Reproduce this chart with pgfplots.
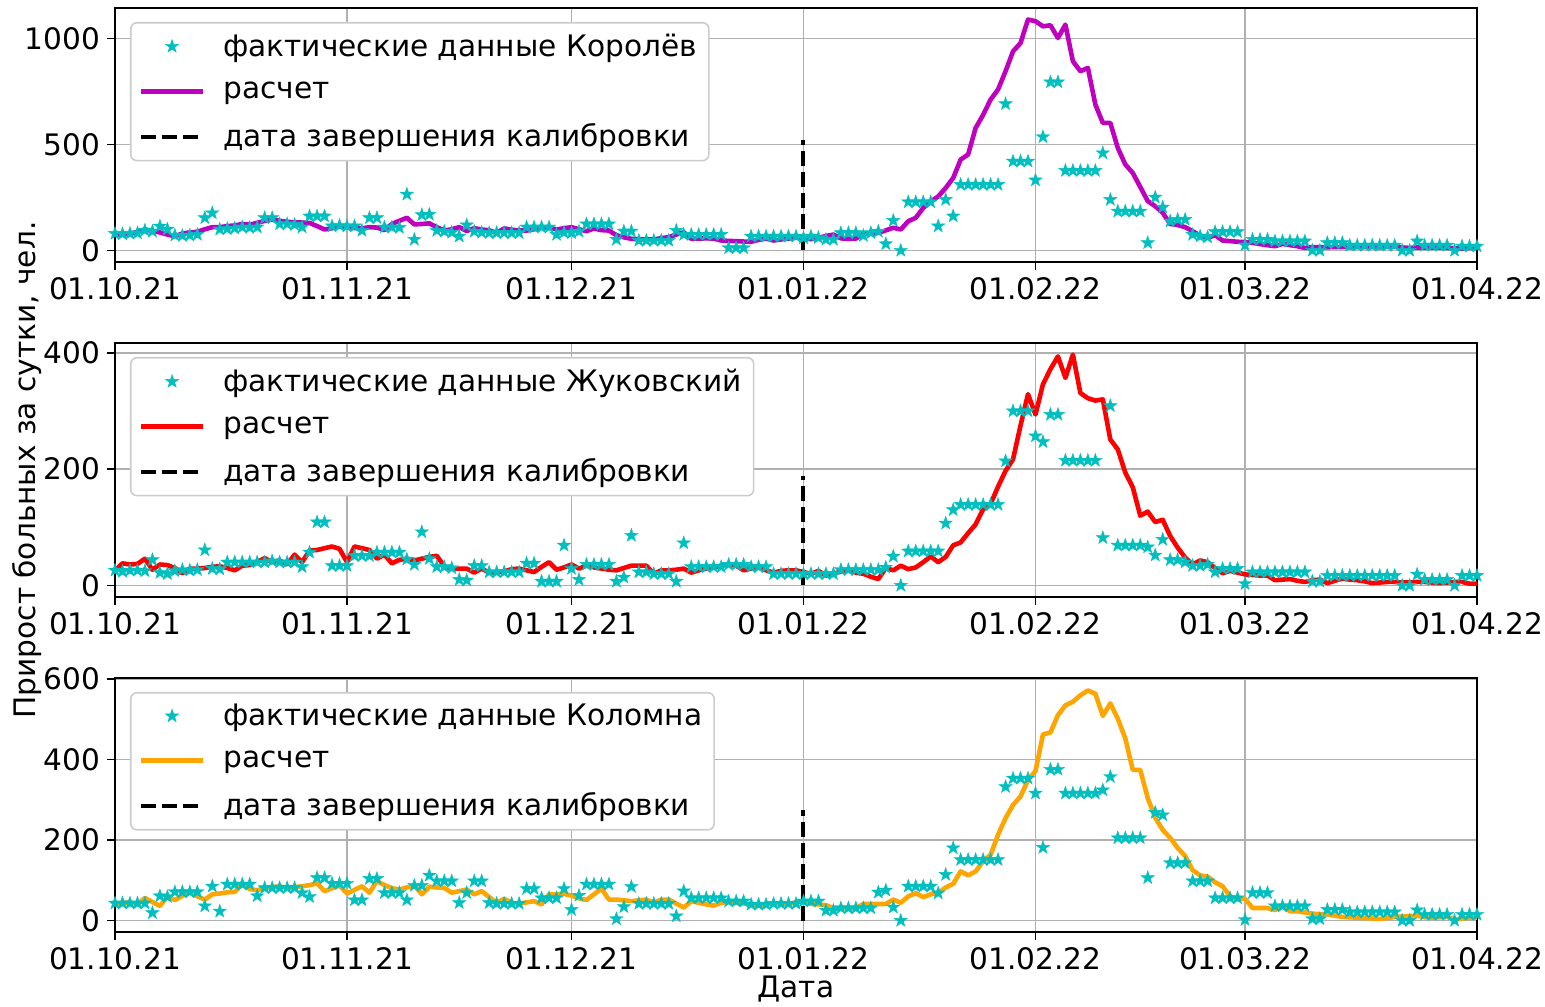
\documentclass[border=0pt]{standalone}
\usepackage{fontspec}
\setmainfont{DejaVu Sans}
\usepackage{pgfplots}
\pgfplotsset{compat=1.18}
\usepackage{pgfplotstable}

\definecolor{starc}{rgb}{0,0.75,0.75}
\definecolor{magc}{rgb}{0.75,0,0.75}
\definecolor{orc}{RGB}{255,165,0}
\definecolor{gridc}{RGB}{176,176,176}
\definecolor{legc}{RGB}{204,204,204}

\pgfdeclareplotmark{fstar}{%
 \pgfpathmoveto{\pgfpointpolar{90}{\pgfplotmarksize}}%
 \pgfpathlineto{\pgfpointpolar{126}{0.39\pgfplotmarksize}}%
 \pgfpathlineto{\pgfpointpolar{162}{\pgfplotmarksize}}%
 \pgfpathlineto{\pgfpointpolar{198}{0.39\pgfplotmarksize}}%
 \pgfpathlineto{\pgfpointpolar{234}{\pgfplotmarksize}}%
 \pgfpathlineto{\pgfpointpolar{270}{0.39\pgfplotmarksize}}%
 \pgfpathlineto{\pgfpointpolar{306}{\pgfplotmarksize}}%
 \pgfpathlineto{\pgfpointpolar{342}{0.39\pgfplotmarksize}}%
 \pgfpathlineto{\pgfpointpolar{18}{\pgfplotmarksize}}%
 \pgfpathlineto{\pgfpointpolar{54}{0.39\pgfplotmarksize}}%
 \pgfpathclose
 \pgfusepathqfillstroke
}

\pgfplotstableread{
d s m
0 80 75
1 78 76
2 80 78
3 82 88
4 95 99
5 90 92
6 114 85
7 100 75
8 72 67
9 70 80
10 72 85
11 75 88
12 154 100
13 177 110
14 100 110
15 102 115
16 105 118
17 110 125
18 108 122
19 110 130
20 154 140
21 154 146
22 125 140
23 125 135
24 122 133
25 110 132
26 162 130
27 162 115
28 162 99
29 115 105
30 118 115
31 115 110
32 115 106
33 94 104
34 154 110
35 154 108
36 110 96
37 110 125
38 108 140
39 265 154
40 52 123
41 168 125
42 170 128
43 94 110
44 90 94
45 85 100
46 67 110
47 120 92
48 90 105
49 85 99
50 83 95
51 83 83
52 83 104
53 83 98
54 83 94
55 110 94
56 110 100
57 110 108
58 110 110
59 75 99
60 85 105
61 83 110
62 90 100
63 125 91
64 125 104
65 125 96
66 125 94
67 52 72
68 91 62
69 91 55
70 47 53
71 47 52
72 47 52
73 47 58
74 47 63
75 94 75
76 75 86
77 75 55
78 75 56
79 75 57
80 75 56
81 75 47
82 12 45
83 12 44
84 12 42
85 67 41
86 67 50
87 67 56
88 67 47
89 67 52
90 67 56
91 67 62
92 59 59
93 67 53
94 60 60
95 52 68
96 52 75
97 83 57
98 83 55
99 83 56
100 70 79
101 83 80
102 90 83
103 31 95
104 141 107
105 0 99
106 229 138
107 229 154
108 229 201
109 229 230
110 115 255
111 240 295
112 162 342
113 311 429
114 311 453
115 311 578
116 311 640
117 311 712
118 311 760
119 692 846
120 421 940
121 421 979
122 421 1090
123 332 1082
124 536 1058
125 795 1063
126 795 1003
127 377 1066
128 377 893
129 377 846
130 377 862
131 377 689
132 460 602
133 240 602
134 185 484
135 185 406
136 185 366
137 185 300
138 36 233
139 251 209
140 204 178
141 138 125
142 146 120
143 146 110
144 75 91
145 67 70
146 63 60
147 88 72
148 88 47
149 88 44
150 88 41
151 25 40
152 52 36
153 52 30
154 52 25
155 44 20
156 44 31
157 44 25
158 44 20
159 44 12
160 0 16
161 0 16
162 36 15
163 36 16
164 36 16
165 24 15
166 24 16
167 24 16
168 24 16
169 24 15
170 24 17
171 24 18
172 0 14
173 0 12
174 44 14
175 24 13
176 24 14
177 24 14
178 24 12
179 0 10
180 20 9
181 20 12
182 20 12
}\tabK

\pgfplotstableread{
d s m
0 26 26
1 24 38
2 26 36
3 26 37
4 25 46
5 44 27
6 22 36
7 20 35
8 25 30
9 27 21
10 26 29
11 27 29
12 61 30
13 29 32
14 28 33
15 40 30
16 40 26
17 40 34
18 40 35
19 40 40
20 40 47
21 42 40
22 40 43
23 40 36
24 40 53
25 32 40
26 57 60
27 109 61
28 109 64
29 34 67
30 34 63
31 34 40
32 51 67
33 51 64
34 51 61
35 57 46
36 57 53
37 57 38
38 57 44
39 45 46
40 36 43
41 92 46
42 46 49
43 32 51
44 32 33
45 30 29
46 10 29
47 9 29
48 34 22
49 34 29
50 23 22
51 23 23
52 23 24
53 23 28
54 23 29
55 38 26
56 38 23
57 7 32
58 7 40
59 7 27
60 69 31
61 29 36
62 10 29
63 36 34
64 36 31
65 36 29
66 36 27
67 7 26
68 14 30
69 86 34
70 23 34
71 23 34
72 20 20
73 20 26
74 20 26
75 7 27
76 73 29
77 32 22
78 32 26
79 32 29
80 32 31
81 32 34
82 36 36
83 36 34
84 36 26
85 32 29
86 32 32
87 32 26
88 20 22
89 20 25
90 20 26
91 20 26
92 20 23
93 20 20
94 20 25
95 20 17
96 20 20
97 27 24
98 27 27
99 27 22
100 27 20
101 27 15
102 27 11
103 31 30
104 50 26
105 0 34
106 59 28
107 59 31
108 59 40
109 59 50
110 59 40
111 107 49
112 130 69
113 139 74
114 139 90
115 139 105
116 139 131
117 139 140
118 139 170
119 214 197
120 300 217
121 300 275
122 300 329
123 257 294
124 247 346
125 294 372
126 294 394
127 215 357
128 215 397
129 215 331
130 215 322
131 215 318
132 82 320
133 309 251
134 69 234
135 69 194
136 69 169
137 69 120
138 66 127
139 52 109
140 79 113
141 44 85
142 44 65
143 40 48
144 34 36
145 34 43
146 36 40
147 23 30
148 29 21
149 29 25
150 29 22
151 3 19
152 23 18
153 23 17
154 23 17
155 23 9
156 23 10
157 23 11
158 23 8
159 23 6
160 7 9
161 7 10
162 17 4
163 17 8
164 17 12
165 17 10
166 17 9
167 17 7
168 17 4
169 17 5
170 17 6
171 17 6
172 0 5
173 0 5
174 19 6
175 10 6
176 10 5
177 10 4
178 10 5
179 0 6
180 17 6
181 17 3
182 17 3
}\tabZ

\pgfplotstableread{
d s m
0 43 40
1 43 44
2 43 45
3 43 40
4 43 56
5 19 46
6 61 36
7 59 59
8 71 51
9 71 61
10 71 71
11 71 60
12 36 52
13 85 65
14 23 67
15 90 70
16 90 71
17 90 90
18 90 78
19 61 75
20 81 81
21 81 83
22 81 85
23 81 81
24 81 83
25 69 85
26 59 88
27 106 92
28 106 73
29 92 80
30 92 87
31 92 67
32 51 76
33 51 85
34 104 69
35 104 98
36 69 88
37 69 80
38 69 77
39 51 82
40 87 87
41 87 65
42 112 84
43 98 82
44 98 81
45 98 69
46 44 73
47 69 77
48 98 65
49 98 73
50 44 58
51 42 44
52 42 54
53 42 44
54 42 42
55 79 45
56 79 48
57 56 40
58 56 65
59 56 65
60 79 66
61 27 62
62 62 55
63 90 51
64 90 65
65 90 79
66 90 52
67 4 52
68 34 50
69 84 48
70 42 50
71 42 52
72 42 44
73 42 52
74 42 52
75 11 42
76 73 32
77 56 48
78 56 44
79 56 40
80 56 37
81 56 44
82 48 46
83 48 44
84 48 42
85 40 40
86 40 37
87 40 40
88 42 42
89 42 42
90 42 42
91 42 45
92 48 48
93 48 41
94 48 40
95 25 38
96 25 31
97 31 31
98 31 31
99 31 31
100 31 41
101 31 41
102 70 41
103 75 41
104 33 52
105 0 44
106 85 60
107 85 68
108 85 58
109 85 65
110 68 68
111 114 82
112 180 91
113 151 122
114 151 112
115 151 122
116 151 147
117 151 163
118 151 213
119 332 254
120 353 287
121 353 308
122 353 349
123 316 371
124 181 462
125 375 467
126 375 510
127 316 534
128 316 543
129 316 559
130 316 571
131 316 563
132 324 508
133 357 539
134 205 501
135 205 452
136 205 374
137 205 374
138 106 304
139 268 255
140 262 225
141 143 205
142 143 180
143 143 160
144 98 125
145 98 112
146 98 109
147 56 95
148 56 85
149 56 60
150 56 53
151 2 54
152 69 31
153 69 31
154 69 31
155 36 26
156 36 36
157 36 23
158 36 23
159 36 20
160 4 17
161 4 16
162 27 15
163 27 12
164 27 9
165 21 8
166 21 7
167 21 6
168 21 5
169 21 4
170 21 6
171 21 9
172 0 10
173 0 11
174 26 12
175 15 8
176 15 7
177 15 8
178 15 9
179 0 2
180 15 5
181 15 7
182 15 7
}\tabC

\newcommand{\bigf}{\fontsize{14.8}{17.8}\selectfont}

\pgfplotsset{
 legend image code/.code={\draw[mark repeat=2,mark phase=2,#1] plot coordinates {(0pt,0pt) (15.5pt,0pt) (31pt,0pt)};},
 panel/.style={
  scale only axis, width=681pt, height=127pt,
  xmin=0, xmax=182,
  xtick={0,31,61,92,123,151,182},
  xticklabels={01.10.21,01.11.21,01.12.21,01.01.22,01.02.22,01.03.22,01.04.22},
  grid=major, major grid style={draw=gridc, line width=0.8pt},
  tick align=outside, tick pos=left, major tick length=4pt,
  every tick/.style={black, line width=0.8pt},
  axis line style={line width=0.8pt},
  tick label style={font=\bigf},
  label style={font=\bigf},
  /pgf/number format/assume math mode=true,
  /pgf/number format/1000 sep={},
  legend cell align=left,
  legend style={at={(0.011,0.945)}, anchor=north west, draw=legc, fill=white,
    rounded corners=3pt, font=\bigf, row sep=7.2pt, inner xsep=4pt, inner ysep=3.5pt,
    line width=0.8pt,
    /tikz/every odd column/.append style={column sep=7pt}},
 },
 stars/.style={only marks, mark=fstar, mark size=3.5pt, mark options={fill=starc, draw=starc, line width=0.2pt}},
 calib/.style={black, line width=2pt, dash pattern=on 7.5pt off 3pt},
}

\begin{document}
\begin{tikzpicture}
\begin{axis}[panel, at={(0,0)}, anchor=north west, ymin=-54.5, ymax=1144.5, ytick={0,500,1000}]
\addplot[stars] table[x=d,y=s]{\tabK};
\addlegendentry{фактические данные Королёв}
\addplot[magc, line width=2.3pt, line join=round] table[x=d,y=m]{\tabK};
\addlegendentry{расчет}
\addplot[calib] coordinates {(92,0) (92,520)};
\addlegendentry{дата завершения калибровки}
\end{axis}

\begin{axis}[panel, at={(0,-167.5pt)}, anchor=north west, ymin=-19.9, ymax=417, ytick={0,200,400},
  ylabel={Прирост больных за сутки, чел.},
  ylabel style={at={(axis description cs:-0.0646,0.5)}, anchor=center}]
\addplot[stars] table[x=d,y=s]{\tabZ};
\addlegendentry{фактические данные Жуковский}
\addplot[red, line width=2.3pt, line join=round] table[x=d,y=m]{\tabZ};
\addlegendentry{расчет}
\addplot[calib] coordinates {(92,0) (92,189)};
\addlegendentry{дата завершения калибровки}
\end{axis}

\begin{axis}[panel, at={(0,-335pt)}, anchor=north west, ymin=-28.6, ymax=602, ytick={0,200,400,600},
  xlabel={Дата},
  xlabel style={at={(axis description cs:0.5,-0.225)}, anchor=center}]
\addplot[stars] table[x=d,y=s]{\tabC};
\addlegendentry{фактические данные Коломна}
\addplot[orc, line width=2.3pt, line join=round] table[x=d,y=m]{\tabC};
\addlegendentry{расчет}
\addplot[calib] coordinates {(92,0) (92,275)};
\addlegendentry{дата завершения калибровки}
\end{axis}
\pgfresetboundingbox
\path[use as bounding box] (-57.5pt,4pt) rectangle (715pt,-499pt);
\end{tikzpicture}
\end{document}
